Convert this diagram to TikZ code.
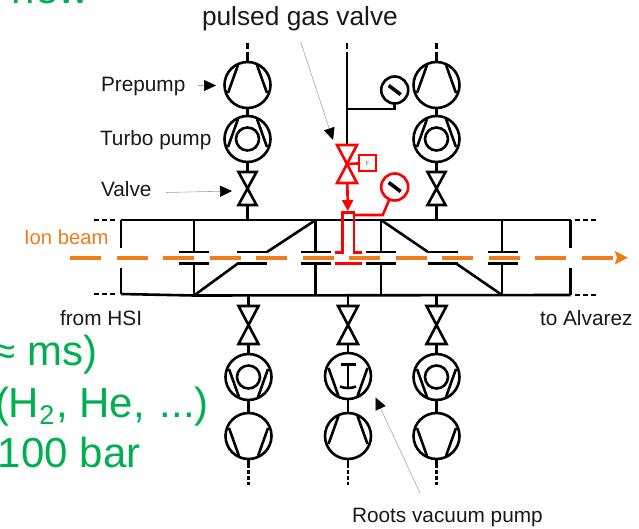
\documentclass[tikz,border=0pt]{standalone}
\usepackage{fontspec}
\setmainfont{Liberation Sans}
\usetikzlibrary{arrows.meta}
\definecolor{gvgreen}{HTML}{00B050}
\definecolor{gvorange}{HTML}{EE7D1A}
\definecolor{gvred}{HTML}{FF0000}
\tikzset{
  x=1pt,y=-1pt,
  ln/.style={line width=2.6pt,line join=miter},
  stub/.style={line width=2.6pt,dash pattern=on 4pt off 2pt},
  thinln/.style={line width=0.6pt,draw=black!35},
  solidhead/.style={-{Triangle[length=12pt,width=11pt,color=black]}},
  lab/.style={anchor=base west,inner sep=0pt,outer sep=0pt,font=\fontsize{20.8}{24}\selectfont,text=black!90},
  big/.style={anchor=base west,inner sep=0pt,outer sep=0pt,font=\fontsize{42}{48}\selectfont,text=gvgreen},
  pumpa/.pic={
    \draw[ln,fill=white] (0,0) circle (23pt);
    \draw[ln] (-9.5,-20) -- (-19.5,8) (9.5,-20) -- (19.5,8);
  },
  pumpb/.pic={
    \draw[ln,fill=white] (0,0) circle (23pt);
    \draw[ln] (-19.5,-8) -- (-9.5,20) (19.5,-8) -- (9.5,20);
  },
  turboa/.pic={
    \pic {pumpa};
    \draw[ln] (0,0) circle (11.5pt);
  },
  turbob/.pic={
    \pic {pumpb};
    \draw[ln] (0,0) circle (11.5pt);
  },
  rootspump/.pic={
    \pic {pumpb};
    \draw[ln] (-7.5,-11.5) -- (7.5,-11.5) (0,-11.5) -- (0,11.5);
    \draw[ln] (-8,10.5) .. controls (-4,12.5) and (4,12.5) .. (8,10.5);
  },
  bowtie/.pic={
    \draw[ln,fill=white] (-9,-16.5) -- (9,-16.5) -- (-9,16.5) -- (9,16.5) -- cycle;
  },
  bowtielong/.pic={
    \draw[ln,fill=white] (-10,-19) -- (10,-19) -- (-10,19) -- (10,19) -- cycle;
  },
  gauge/.pic={
    \draw[ln,fill=white] (0,0) circle (13.5pt);
    \draw[line width=3.6pt] (-6,-4.5) -- (6,4.5);
  },
  plates/.pic={
    \draw[ln] (-15,-5.7) -- (15,-5.7) (-15,5.7) -- (15,5.7);
  }
}
\begin{document}
\begin{tikzpicture}
\useasboundingbox (0,0) rectangle (639,529);
\clip (0,0) rectangle (639,529);

% named points
\coordinate (ltop) at (247.5,52);
\coordinate (lpre) at (247.5,85);
\coordinate (ltur) at (247.5,139);
\coordinate (lval) at (247.5,188.5);
\coordinate (lbeam) at (247.5,220);
\coordinate (rtop) at (436.5,52);
\coordinate (rpre) at (436.5,85);
\coordinate (rtur) at (436.5,139);
\coordinate (rval) at (436.5,188.5);
\coordinate (rbeam) at (436.5,220);
\coordinate (ctop) at (347,52);
\coordinate (cjoin) at (347,109);
\coordinate (gaugeA) at (394.7,90);
\coordinate (gaugeAfoot) at (394.7,109);
\coordinate (rv) at (347,164);
\coordinate (gaugeB) at (394.7,187);
\coordinate (gbend) at (382.7,215);
\coordinate (rvhead) at (347.8,211);
\coordinate (blbeam) at (248.5,295);
\coordinate (blval) at (248.5,325);
\coordinate (blp1) at (248.5,377);
\coordinate (blp2) at (248.5,436);
\coordinate (blend) at (248.5,468);
\coordinate (bcbeam) at (348,295);
\coordinate (bcval) at (348,325);
\coordinate (bcp1) at (348,376);
\coordinate (bcp2) at (348,436);
\coordinate (bcend) at (348,468);
\coordinate (brbeam) at (436.5,295);
\coordinate (brval) at (436.5,325);
\coordinate (brp1) at (436.5,377);
\coordinate (brp2) at (436.5,436);
\coordinate (brend) at (436.5,468);

% vertical pipe runs
\draw[ln] (ltop) -- (lbeam);
\draw[ln] (rtop) -- (rbeam);
\draw[ln] (ctop) -- (rv);
\draw[ln] (cjoin) -- (gaugeAfoot) -- (gaugeA);
\draw[ln] (blbeam) -- (blend);
\draw[ln] (bcbeam) -- (bcend);
\draw[ln] (brbeam) -- (brend);

% broken pipe ends
\draw[line width=2.6pt] (247.5,43) -- (247.5,49);
\draw[line width=2.6pt] (347,43) -- (347,49);
\draw[line width=2.6pt] (436.5,43) -- (436.5,49);
\draw[stub] (248.5,470) -- (248.5,485);
\draw[stub] (348,470) -- (348,485);
\draw[stub] (436.5,470) -- (436.5,485);

% beam pipe
\coordinate (wl) at (121,220); \coordinate (wr) at (570.7,220);
\coordinate (bl) at (121,294); \coordinate (br) at (570.7,295);
\coordinate (dA) at (194,220); \coordinate (dAb) at (194,295.5);
\coordinate (dB) at (315.7,220); \coordinate (dBb) at (315.7,295);
\coordinate (dC) at (381,220); \coordinate (dCb) at (381,295);
\coordinate (dD) at (502,220); \coordinate (dDb) at (502,295);
\draw[ln] (wl) -- (wr);
\draw[ln] (bl) -- (dAb) -- (br);
\draw[ln] (wl) -- (121,248) (121,267.5) -- (bl);
\draw[ln] (wr) -- (570.7,248) (570.7,267.5) -- (br);
\draw[ln,dash pattern=on 5pt off 3pt] (94,220) -- (117,220);
\draw[ln,dash pattern=on 5pt off 3pt] (94,294) -- (117,294);
\draw[ln,dash pattern=on 5pt off 3pt] (575,220) -- (598,220);
\draw[ln,dash pattern=on 5pt off 3pt] (575,295) -- (598,295);

% diaphragms
\draw[ln] (dA) -- (194,252) (194,263) -- (dAb);
\draw[ln] (dB) -- (315.7,252) (315.7,263) -- (dBb);
\draw[ln] (dC) -- (381,252) (381,263) -- (dCb);
\draw[ln] (dD) -- (502,252) (502,263) -- (dDb);
\pic at (194,257.7) {plates};
\pic at (315.7,257.7) {plates};
\pic at (381,257.7) {plates};
\pic at (503,257.7) {plates};
\pic at (252,257.7) {plates};
\pic at (442.5,257.7) {plates};
\draw[ln] (267,252) -- (dB);
\draw[ln] (238,263.4) -- (dAb);
\draw[ln] (dC) -- (428,252);
\draw[ln] (456,263.4) -- (dDb);

% red inlet
\begin{scope}[color=gvred,draw=gvred]
\node[draw=gvred,line width=2.2pt,minimum width=17pt,minimum height=16pt,inner sep=0pt,font=\fontsize{6}{6}\selectfont,text=black!60] (fbox) at (367.5,163) {F};
\draw[ln,gvred] (rv) -- (fbox);
\draw[ln,gvred,-{Triangle[length=11pt,width=11pt,color=gvred]}] (rv) -- (rvhead);
\draw[ln,gvred] (335,252.7) -- (342.7,252.7) -- (342.7,212.5) -- (354,212.5) -- (354,252.7) -- (361.7,252.7);
\draw[ln,gvred] (335,263.4) -- (362,263.4);
\draw[ln,gvred] (354,215) -- (gbend) -- (gaugeB);
\pic[color=gvred] at (rv) {bowtielong};
\draw[ln,gvred,fill=white] (gaugeB) circle (13.5pt);
\draw[line width=3.6pt,black] (388.7,182.5) -- (400.7,191.5);
\end{scope}

% pumps and valves
\pic at (lpre) {pumpa};
\pic at (ltur) {turboa};
\pic at (lval) {bowtie};
\pic at (rpre) {pumpa};
\pic at (rtur) {turboa};
\pic at (rval) {bowtie};
\pic at (gaugeA) {gauge};
\pic at (blval) {bowtielong};
\pic at (blp1) {turbob};
\pic at (blp2) {pumpb};
\pic at (bcval) {bowtielong};
\pic at (bcp1) {rootspump};
\pic at (bcp2) {pumpa};
\pic at (brval) {bowtielong};
\pic at (brp1) {turbob};
\pic at (brp2) {pumpb};

% ion beam
\coordinate (bstart) at (70,257.7);
\coordinate (bend) at (628,257.7);
\draw[line width=3.8pt,gvorange,dash pattern=on 31pt off 15.5pt,-{Stealth[length=13pt,width=13pt,inset=2pt,color=gvorange]}] (bstart) -- (bend);

% labels
\node[lab,font=\fontsize{26.3}{30}\selectfont] (tpgv) at (202,26) {pulsed gas valve};
\node[lab] (tpre) at (101,92) {Prepump};
\node[lab] (ttur) at (100,146) {Turbo pump};
\node[lab] (tval) at (101,197) {Valve};
\node[lab,text=gvorange,font=\fontsize{20.3}{24}\selectfont] (tion) at (24,244) {Ion beam};
\node[lab] (thsi) at (60,325) {from HSI};
\node[lab] (talv) at (540,325) {to Alvarez};
\node[lab] (troots) at (352,522) {Roots vacuum pump};

% leader arrows
\coordinate (aPre0) at (198,85.5); \coordinate (aPre1) at (216,85.5);
\coordinate (aVal0) at (166,192.5); \coordinate (aVal1) at (232,191);
\coordinate (aGas0) at (300.7,42); \coordinate (aGas1) at (333,140);
\coordinate (aRo0) at (420,493); \coordinate (aRo1) at (375.5,397.5);
\draw[thinln,solidhead] (aPre0) -- (aPre1);
\draw[thinln,solidhead] (aVal0) -- (aVal1);
\draw[thinln,solidhead] (aGas0) -- (aGas1);
\draw[thinln,solidhead] (aRo0) -- (aRo1);

% cropped slide text
\node[big] (gnew) at (12,4) {new};
\node[big] (gms) at (-7,365) {≈ ms)};
\node[big] (ggas) at (-5,417) {(H\raisebox{-7pt}{\fontsize{27}{27}\selectfont 2}\hspace{2pt}, He,\hspace{3pt} ...)};
\node[big] (gbar) at (-2,467) {100 bar};
\end{tikzpicture}
\end{document}
